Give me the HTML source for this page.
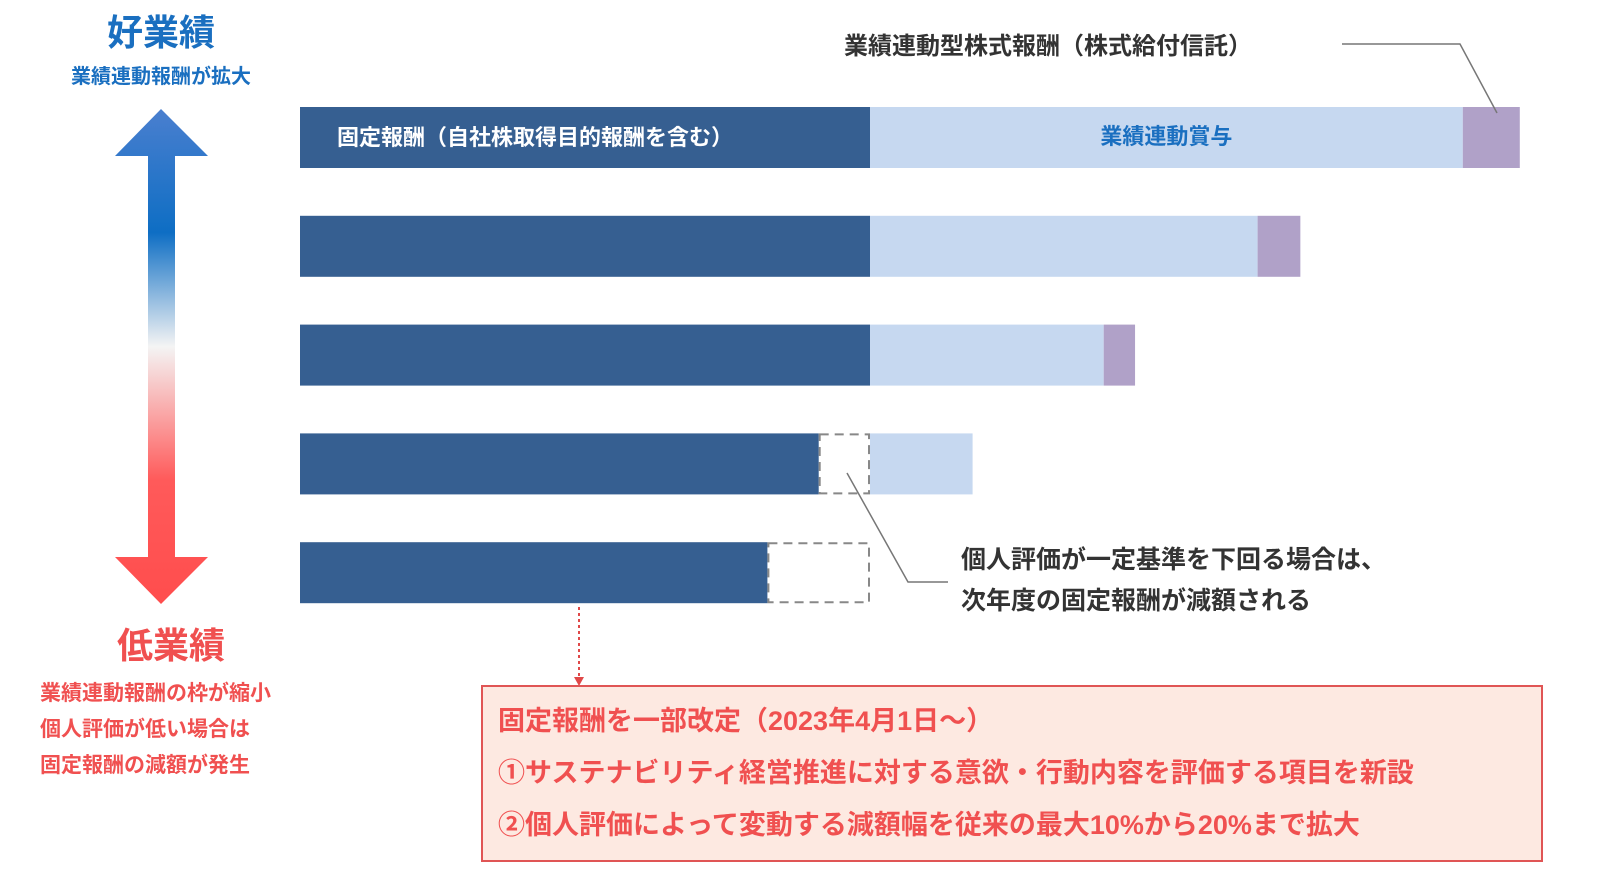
<!DOCTYPE html>
<html><head><meta charset="utf-8">
<style>
body{margin:0;width:1597px;height:867px;background:#fff;overflow:hidden;font-family:"Liberation Sans","Noto Sans CJK JP",sans-serif;font-weight:bold;}
svg text{font-family:"Liberation Sans","Noto Sans CJK JP",sans-serif;font-weight:bold;}
</style></head><body>
<svg id="chart" width="1597" height="867" viewBox="0 0 1597 867" xmlns="http://www.w3.org/2000/svg">
<defs>
<linearGradient id="arrowGrad" x1="0" y1="0" x2="0" y2="1">
<stop offset="0" stop-color="#4a7fcf"/>
<stop offset="0.25" stop-color="#0e6ec4"/>
<stop offset="0.48" stop-color="#f4f4f4"/>
<stop offset="0.75" stop-color="#ff5a5a"/>
<stop offset="1" stop-color="#ff4d4d"/>
</linearGradient>
</defs>
<g>
<polygon points="161,109 208,156 175,156 175,557 208,557 161,604 115,557 148,557 148,156 115,156" fill="url(#arrowGrad)"/>
</g>
<text x="161" y="45" text-anchor="middle" font-size="36" fill="#1a6fc0">好業績</text>
<text x="161" y="83" text-anchor="middle" font-size="20" fill="#1a6fc0">業績連動報酬が拡大</text>
<text x="171" y="658" text-anchor="middle" font-size="36" fill="#f05050">低業績</text>
<text x="40" y="700" font-size="21" fill="#f05050">業績連動報酬の枠が縮小</text>
<text x="40" y="736" font-size="21" fill="#f05050">個人評価が低い場合は</text>
<text x="40" y="772" font-size="21" fill="#f05050">固定報酬の減額が発生</text>

<g id="bars"></g>

<text x="844" y="54" font-size="24" fill="#333">業績連動型株式報酬（株式給付信託）</text>
<polyline points="1342,44 1460,44 1497,113" fill="none" stroke="#777" stroke-width="1.5"/>
<polyline points="847,473 908,582 948,582" fill="none" stroke="#777" stroke-width="1.5"/>
<text x="961" y="568" font-size="25" fill="#333">個人評価が一定基準を下回る場合は、</text>
<text x="961" y="609" font-size="25" fill="#333">次年度の固定報酬が減額される</text>

<line x1="579" y1="607" x2="579" y2="678" stroke="#e04848" stroke-width="2" stroke-dasharray="3,3"/>
<polygon points="574,677 584,677 579,686" fill="#e04848"/>

<rect x="482" y="686" width="1060" height="175" fill="#fde9e1" stroke="#e05555" stroke-width="2"/>
<text x="498" y="730" font-size="27" fill="#f05050">固定報酬を一部改定（2023年4月1日～）</text>
<text x="498" y="782" font-size="27" fill="#f05050">①サステナビリティ経営推進に対する意欲・行動内容を評価する項目を新設</text>
<text x="498" y="834" font-size="27" fill="#f05050">②個人評価によって変動する減額幅を従来の最大10%から20%まで拡大</text>
</svg>
<script>
const rows = ["row1","row2","row3","row4","row5"];
const fixedPay = [100,100,100,91,82];
const bonusPay = [104,68,41,18,0];
const stockPay = [10,7.5,5.5,0,0];
const fixedBase = 100;

const x0 = 300, unitPx = 5.7;
const rowTop = 107, rowStep = 108.8, barH = 61;
function xs(v){return x0 + v*unitPx;}
function ys(i){return rowTop + i*rowStep;}
const NS="http://www.w3.org/2000/svg";
const g=document.getElementById('bars');
function rect(x,y,w,h,fill,name){
  const r=document.createElementNS(NS,'rect');
  r.setAttribute('x',x);r.setAttribute('y',y);r.setAttribute('width',Math.max(0,w));r.setAttribute('height',h);
  r.setAttribute('fill',fill);
  
  
  g.appendChild(r);return r;
}
rows.forEach((rw,i)=>{
  const y=ys(i);
  rect(xs(0),y,xs(fixedPay[i])-xs(0),barH,'#365f91','fixed-bar-'+rw);
  if(fixedPay[i]<fixedBase){
    const d=rect(xs(fixedPay[i])+1,y+1,xs(fixedBase)-xs(fixedPay[i])-2,barH-2,'none','reduction-bar-'+rw);
    d.setAttribute('stroke','#888');d.setAttribute('stroke-width','2');d.setAttribute('stroke-dasharray','9,6');
  }
  const b0=Math.max(fixedBase,fixedPay[i]);
  if(bonusPay[i]>0) rect(xs(b0),y,xs(b0+bonusPay[i])-xs(b0),barH,'#c6d8f0','bonus-bar-'+rw);
  if(stockPay[i]>0) rect(xs(b0+bonusPay[i]),y,xs(b0+bonusPay[i]+stockPay[i])-xs(b0+bonusPay[i]),barH,'#b0a1c8','stock-bar-'+rw);
});
function label(x,y,txt,fill,name,anchor){
  const t=document.createElementNS(NS,'text');
  t.setAttribute('x',x);t.setAttribute('y',y);t.setAttribute('font-size','22');t.setAttribute('fill',fill);
  if(anchor)t.setAttribute('text-anchor',anchor);
  t.textContent=txt;
  
  
  g.appendChild(t);
}
label(337,ys(0)+38,'固定報酬（自社株取得目的報酬を含む）','#fff','fixed-pay-label');
label(xs(fixedBase+bonusPay[0]/2),ys(0)+37,'業績連動賞与','#1a6fc0','bonus-label','middle');
</script>
</body></html>
